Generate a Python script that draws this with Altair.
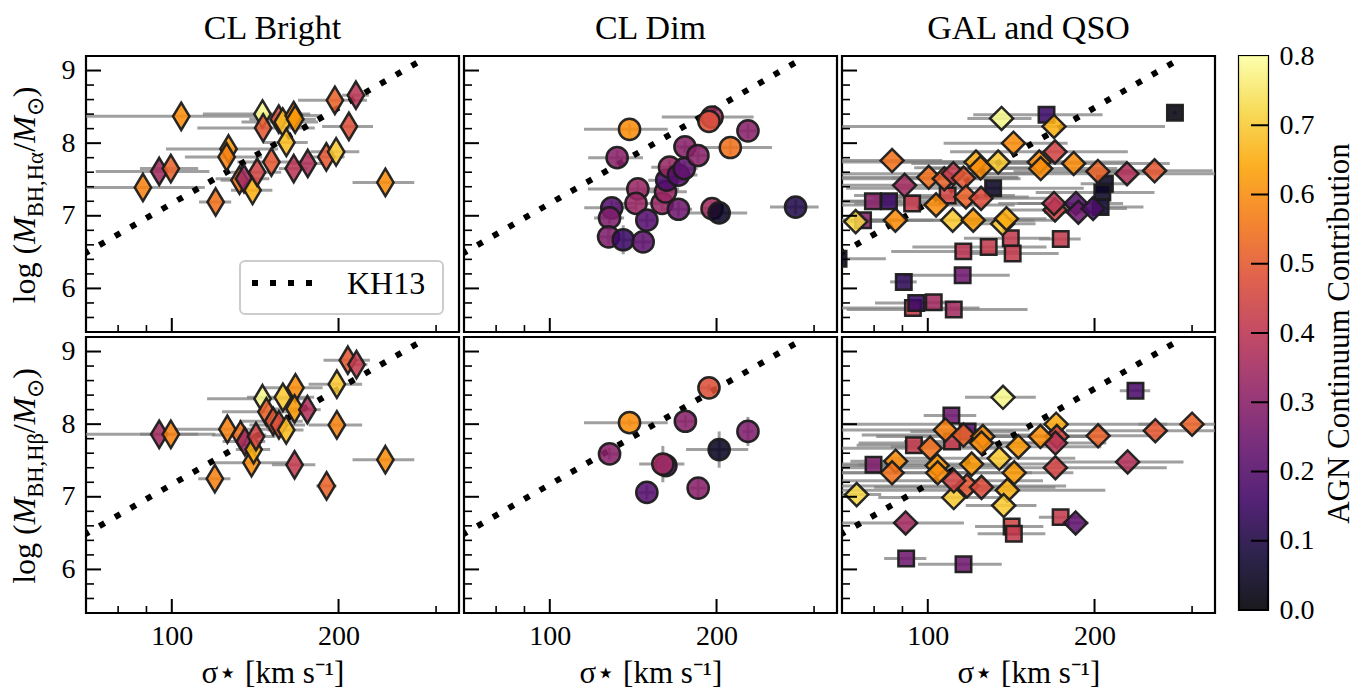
import altair as alt
import pandas as pd

FONT = "Liberation Serif"
PW, PH = 373, 276
CBW = 29
XDOM = [70, 330]
YDOM = [5.4, 9.2]

# ---------------- data ----------------
kh13_sigma = [65.0, 282.0]
kh13_logm = [6.35, 9.14]

x_major = [100, 200]
x_minor = [80, 90, 300]
y_major = [6, 7, 8, 9]
y_minor = [5.6, 5.8, 6.2, 6.4, 6.6, 6.8, 7.2, 7.4, 7.6, 7.8, 8.2, 8.4, 8.6, 8.8]
cbar_labels = [0.0, 0.1, 0.2, 0.3, 0.4, 0.5, 0.6, 0.7, 0.8]
cbar_inner_ticks = [0.1, 0.2, 0.3, 0.4, 0.5, 0.6, 0.7]
cbar_range = [0.0, 0.8]
col_titles = ["CL Bright", "CL Dim", "GAL and QSO"]

# CL Bright, H-alpha
cbA_sigma = [88.7, 94.9, 99.6, 104.0, 120.0, 126.6, 125.6, 132.5, 135.0, 139.9, 142.6, 145.8, 146.2, 151.3,
             156.0, 158.6, 161.0, 166.0, 167.0, 166.0, 176.0, 190.1, 198.0, 197.0, 208.8, 215.0, 243.0]
cbA_err = [26, 22, 12, 39, 8, 29, 20, 10, 15, 12, 15, 32, 35, 20, 18, 25, 15, 20, 15, 10, 12, 15, 20, 28, 22, 12, 31]
cbA_logm = [7.39, 7.61, 7.65, 8.37, 7.19, 7.92, 7.81, 7.49, 7.51, 7.35, 7.60, 8.40, 8.21, 7.74, 8.33, 8.29, 8.01,
            8.38, 8.33, 7.65, 7.72, 7.81, 7.88, 8.59, 8.23, 8.66, 7.46]
cbA_agn = [0.58, 0.35, 0.52, 0.60, 0.55, 0.62, 0.58, 0.55, 0.35, 0.66, 0.45, 0.78, 0.50, 0.50, 0.48, 0.68, 0.68,
           0.60, 0.62, 0.40, 0.38, 0.50, 0.70, 0.52, 0.48, 0.40, 0.60]

# CL Bright, H-beta
cbB_sigma = [94.9, 99.6, 119.6, 126.0, 133.1, 135.5, 139.3, 140.5, 141.9, 145.8, 148.2, 152.4, 158.7, 156.1,
             160.9, 167.2, 166.6, 166.6, 175.7, 190.3, 198.6, 198.6, 207.9, 215.5, 243.0]
cbB_err = [25, 12, 8, 25, 15, 12, 22, 10, 12, 30, 25, 20, 22, 18, 12, 20, 15, 15, 10, 8, 22, 22, 20, 10, 31]
cbB_logm = [7.86, 7.86, 7.25, 7.93, 7.85, 7.76, 7.47, 7.65, 7.83, 8.35, 8.17, 8.04, 8.37, 7.99, 7.92, 8.50,
            8.21, 7.44, 8.20, 7.15, 8.55, 7.99, 8.88, 8.82, 7.51]
cbB_agn = [0.35, 0.58, 0.58, 0.58, 0.55, 0.35, 0.60, 0.66, 0.45, 0.78, 0.52, 0.50, 0.70, 0.48, 0.68, 0.60,
           0.62, 0.42, 0.38, 0.52, 0.70, 0.58, 0.50, 0.42, 0.60]

# CL Dim, H-alpha
cdA_sigma = [139.3, 132.3, 144.2, 143.1, 129.4, 128.2, 127.7, 135.7, 147.4, 149.7, 159.5, 161.8, 162.6, 164.5,
             170.7, 174.9, 170.7, 175.4, 185.1, 196.3, 193.8, 196.3, 202.2, 211.8, 227.9, 277.8]
cdA_err = [24, 15, 27, 12, 14, 8, 6, 5, 5, 5, 8, 15, 12, 12, 14, 10, 10, 8, 8, 37, 8, 8, 25, 40, 8, 28]
cdA_logm = [8.19, 7.80, 7.37, 7.17, 7.11, 6.97, 6.71, 6.67, 6.64, 6.94, 7.17, 7.33, 7.49, 7.67, 7.56, 7.65,
            7.09, 7.95, 7.83, 8.36, 8.30, 7.10, 7.04, 7.94, 8.17, 7.12]
cdA_merr = [0.08, 0.10, 0.10, 0.10, 0.10, 0.08, 0.10, 0.20, 0.10, 0.10, 0.10, 0.10, 0.10, 0.10, 0.10, 0.10,
            0.10, 0.08, 0.10, 0.10, 0.08, 0.10, 0.10, 0.10, 0.10, 0.10]
cdA_agn = [0.60, 0.30, 0.33, 0.33, 0.20, 0.28, 0.28, 0.15, 0.22, 0.20, 0.33, 0.33, 0.18, 0.33, 0.20, 0.22,
           0.25, 0.30, 0.30, 0.35, 0.48, 0.35, 0.05, 0.55, 0.30, 0.10]

# CL Dim, H-beta
cdB_sigma = [139.3, 128.2, 175.7, 193.8, 227.9, 202.2, 162.0, 160.0, 149.7, 185.3]
cdB_err = [24, 5, 8, 8, 5, 26, 8, 15, 5, 6]
cdB_logm = [8.02, 7.59, 8.04, 8.50, 7.90, 7.65, 7.43, 7.45, 7.06, 7.12]
cdB_merr = [0.05, 0.08, 0.08, 0.05, 0.20, 0.25, 0.10, 0.25, 0.10, 0.15]
cdB_agn = [0.60, 0.30, 0.30, 0.48, 0.28, 0.05, 0.20, 0.35, 0.20, 0.30]

# GAL and QSO, H-alpha (diamonds)
gdA_sigma = [135.9, 169.0, 142.8, 86.2, 90.8, 74.1, 87.4, 100.4, 107.1, 111.2, 116.0, 122.2, 124.5, 134.0,
             103.5, 110.9, 120.8, 117.2, 124.8, 136.5, 138.7, 158.9, 159.9, 169.7, 183.4, 202.8, 228.9, 256.7,
             169.7, 169.0, 185.2, 187.0, 198.8]
gdA_err = [18, 99, 36, 20, 25, 10, 15, 45, 40, 50, 30, 55, 30, 35, 40, 45, 50, 35, 45, 20, 25, 70, 60, 60, 90,
           60, 110, 70, 30, 35, 40, 25, 30]
gdA_logm = [8.34, 8.23, 8.00, 7.76, 7.42, 6.92, 6.94, 7.53, 7.51, 7.58, 7.52, 7.74, 7.66, 7.74, 7.15, 6.94,
            6.94, 7.26, 7.24, 6.89, 6.96, 7.74, 7.65, 7.88, 7.72, 7.61, 7.58, 7.62, 7.08, 7.17, 7.17, 7.05, 7.10]
gdA_agn = [0.78, 0.66, 0.60, 0.55, 0.35, 0.72, 0.60, 0.55, 0.52, 0.42, 0.50, 0.65, 0.60, 0.70, 0.60, 0.70,
           0.62, 0.52, 0.47, 0.70, 0.65, 0.60, 0.60, 0.45, 0.60, 0.52, 0.38, 0.50, 0.45, 0.40, 0.20, 0.25, 0.18]

# GAL and QSO, H-alpha (squares)
gsA_sigma = [163.8, 279.4, 79.6, 85.1, 93.7, 131.2, 108.6, 208.8, 206.6, 205.1, 141.2, 142.3, 128.8, 115.9,
             173.8, 115.6, 90.5, 94.0, 95.3, 102.5, 111.4, 76.4, 69.0]
gsA_err = [43, 2, 10, 15, 20, 60, 35, 20, 50, 40, 25, 30, 35, 30, 15, 25, 5, 30, 15, 10, 40, 8, 15]
gsA_logm = [8.39, 8.42, 7.20, 7.20, 7.17, 7.38, 7.28, 7.44, 7.32, 7.12, 6.69, 6.48, 6.57, 6.51, 6.68, 6.18,
            6.09, 5.73, 5.80, 5.81, 5.71, 6.94, 6.41]
gsA_agn = [0.15, 0.02, 0.30, 0.15, 0.42, 0.05, 0.45, 0.05, 0.05, 0.08, 0.42, 0.42, 0.42, 0.40, 0.42, 0.25,
           0.12, 0.42, 0.15, 0.35, 0.35, 0.30, 0.05]

# GAL and QSO, H-beta (diamonds)
gdB_sigma = [136.7, 300.0, 257.5, 203.0, 229.5, 170.5, 171.0, 170.0, 159.7, 145.7, 170.0, 184.9, 91.2, 74.4,
             87.5, 86.2, 101.0, 107.6, 104.0, 104.2, 116.0, 125.7, 125.0, 120.0, 134.6, 111.4, 117.7, 125.0,
             143.2, 139.2, 137.1, 111.4]
gdB_err = [20, 60, 80, 60, 60, 100, 40, 40, 50, 60, 100, 10, 25, 8, 15, 30, 35, 45, 40, 50, 40, 45, 50, 55, 50,
           30, 60, 45, 40, 70, 20, 50]
gdB_logm = [8.37, 8.00, 7.91, 7.84, 7.48, 8.00, 7.83, 7.74, 7.83, 7.69, 7.40, 6.64, 6.64, 7.03, 7.49, 7.33,
            7.67, 7.92, 7.43, 7.33, 7.85, 7.83, 7.74, 7.45, 7.53, 6.99, 7.15, 7.13, 7.33, 7.09, 6.88, 7.22]
gdB_agn = [0.78, 0.52, 0.50, 0.52, 0.38, 0.65, 0.45, 0.40, 0.60, 0.62, 0.45, 0.22, 0.35, 0.72, 0.60, 0.55,
           0.55, 0.58, 0.62, 0.60, 0.52, 0.60, 0.60, 0.62, 0.70, 0.70, 0.50, 0.47, 0.62, 0.66, 0.70, 0.45]

# GAL and QSO, H-beta (squares)
gsB_sigma = [237.1, 110.3, 110.6, 94.4, 79.8, 118.0, 173.7, 141.7, 143.0, 91.4, 116.0]
gsB_err = [15, 12, 20, 20, 5, 25, 15, 20, 20, 8, 20]
gsB_logm = [8.46, 8.12, 7.76, 7.71, 7.44, 7.90, 6.72, 6.59, 6.49, 6.15, 6.07]
gsB_agn = [0.18, 0.25, 0.42, 0.42, 0.28, 0.20, 0.42, 0.45, 0.42, 0.25, 0.25]

inferno_stops = ["#000004", "#160b39", "#420a68", "#6a176e", "#932667", "#bc3754",
                 "#dd513a", "#f37819", "#fca50a", "#f6d746", "#fcffa4"]


# ---------------- helpers ----------------
def frame(sigma, err, logm, agn, merr=None):
    df = pd.DataFrame({"sigma": sigma, "err": err, "logm": logm, "agn": agn})
    df["xlo"] = (df["sigma"] - df["err"]).clip(lower=1.0)
    df["xhi"] = df["sigma"] + df["err"]
    if merr is not None:
        m = pd.Series(merr)
        df["ylo"] = df["logm"] - m
        df["yhi"] = df["logm"] + m
    return df


THIN_DIAMOND = "M0,-1L0.6,0L0,1L-0.6,0Z"
xs = alt.Scale(type="log", domain=XDOM, nice=False)
ys = alt.Scale(domain=YDOM, nice=False, zero=False)
cscale = alt.Scale(scheme="inferno", domain=cbar_range)

XAXIS_BOTTOM = alt.Axis(values=x_major, format="d", ticks=False, domain=False, grid=False,
                        labelFont=FONT, labelFontSize=28, labelPadding=9, labelColor="black",
                        labelFlush=False,
                        title="σ⋆ [km s⁻¹]", titleFont=FONT, titleFontSize=31,
                        titleFontWeight="normal", titleColor="black", titlePadding=8)
YAXIS_LEFT = alt.Axis(values=y_major, ticks=False, domain=False, grid=False,
                      labelFont=FONT, labelFontSize=28, labelPadding=11, labelColor="black",
                      labelFlush=False, title=None)

EM = {"l": .278, "o": .5, "g": .5, " ": .25, "(": .333, ")": .333, "M": .833, "B": .667,
      "H": .722, ",": .25, "α": .55, "β": .5, "/": .278, "⊙": .84}


def ytitle_layers(greek):
    main, sub = 32, 22.5
    pieces = [("log (", main, "normal", False), ("M", main, "italic", False),
              ("BH,H" + greek, sub, "normal", True), ("/", main, "normal", False),
              ("M", main, "italic", False), ("⊙", sub, "normal", True), (")", main, "normal", False)]
    widths = [sum(EM.get(c, .5) for c in t) * fs for t, fs, _, _ in pieces]
    total = sum(widths)
    ystart = 139 + total / 2
    layers = []
    cum = 0
    for (t, fs, style, is_sub), w in zip(pieces, widths):
        layers.append(
            alt.Chart(alt.Data(values=[{"k": 1}])).mark_text(
                text=t, font=FONT, fontSize=fs, fontStyle=style, angle=270,
                align="left", baseline="alphabetic", color="black"
            ).encode(x=alt.value(-43 if is_sub else -51), y=alt.value(ystart - cum))
        )
        cum += w
    return layers


def panel(groups, row, col, greek, title=None):
    xaxis = XAXIS_BOTTOM if row == 1 else None
    yaxis = YAXIS_LEFT if col == 0 else None

    def X(f):
        return alt.X(f, type="quantitative", scale=xs, axis=xaxis)

    def Y(f):
        return alt.Y(f, type="quantitative", scale=ys, axis=yaxis)

    layers = []
    for df, shape, size in groups:
        layers.append(alt.Chart(df).mark_rule(color="#808080", opacity=0.75, strokeWidth=3, clip=True)
                      .encode(x=X("xlo"), x2="xhi", y=Y("logm")))
        if "ylo" in df.columns:
            layers.append(alt.Chart(df).mark_rule(color="#808080", opacity=0.75, strokeWidth=3, clip=True)
                          .encode(x=X("sigma"), y=Y("ylo"), y2="yhi"))
    kh = pd.DataFrame({"sigma": kh13_sigma, "logm": kh13_logm})
    layers.append(alt.Chart(kh).mark_line(color="black", strokeWidth=6, strokeDash=[6, 12],
                                          strokeCap="butt", clip=True)
                  .encode(x=X("sigma"), y=Y("logm")))
    for df, shape, size in groups:
        layers.append(alt.Chart(df).mark_point(shape=shape, size=size, filled=True, opacity=1,
                                               fillOpacity=0.88, stroke="#1c1c1c", strokeWidth=2.5,
                                               strokeOpacity=0.95, clip=True)
                      .encode(x=X("sigma"), y=Y("logm"),
                              fill=alt.Fill("agn:Q", scale=cscale, legend=None)))
    # inward ticks
    layers.append(alt.Chart(pd.DataFrame({"v": x_major})).mark_rule(color="black", strokeWidth=2)
                  .encode(x=X("v"), y=alt.value(PH), y2=alt.value(PH - 14)))
    layers.append(alt.Chart(pd.DataFrame({"v": x_minor})).mark_rule(color="black", strokeWidth=1.6)
                  .encode(x=X("v"), y=alt.value(PH), y2=alt.value(PH - 7)))
    layers.append(alt.Chart(pd.DataFrame({"v": y_major})).mark_rule(color="black", strokeWidth=2)
                  .encode(y=Y("v"), x=alt.value(0), x2=alt.value(15)))
    layers.append(alt.Chart(pd.DataFrame({"v": y_minor})).mark_rule(color="black", strokeWidth=1.6)
                  .encode(y=Y("v"), x=alt.value(0), x2=alt.value(8)))
    if col == 0:
        layers += ytitle_layers(greek)
    if row == 0 and col == 0:
        one = alt.Data(values=[{"k": 1}])
        layers.append(alt.Chart(one).mark_rect(fill="white", stroke="#cccccc", strokeWidth=2,
                                               cornerRadius=5)
                      .encode(x=alt.value(154), x2=alt.value(357), y=alt.value(205), y2=alt.value(258)))
        layers.append(alt.Chart(one).mark_rule(color="black", strokeWidth=6, strokeDash=[6, 12])
                      .encode(x=alt.value(166), x2=alt.value(227), y=alt.value(227)))
        layers.append(alt.Chart(one).mark_text(text="KH13", font=FONT, fontSize=32, align="left",
                                               baseline="alphabetic", color="black")
                      .encode(x=alt.value(261), y=alt.value(238)))
    ch = alt.layer(*layers).properties(width=PW, height=PH)
    if title is not None:
        ch = ch.properties(title=alt.Title(title))
    return ch


cbA = frame(cbA_sigma, cbA_err, cbA_logm, cbA_agn)
cbB = frame(cbB_sigma, cbB_err, cbB_logm, cbB_agn)
cdA = frame(cdA_sigma, cdA_err, cdA_logm, cdA_agn, cdA_merr)
cdB = frame(cdB_sigma, cdB_err, cdB_logm, cdB_agn, cdB_merr)
gdA = frame(gdA_sigma, gdA_err, gdA_logm, gdA_agn)
gsA = frame(gsA_sigma, gsA_err, gsA_logm, gsA_agn)
gdB = frame(gdB_sigma, gdB_err, gdB_logm, gdB_agn)
gsB = frame(gsB_sigma, gsB_err, gsB_logm, gsB_agn)

row1 = alt.hconcat(
    panel([(cbA, THIN_DIAMOND, 750)], 0, 0, "α", col_titles[0]),
    panel([(cdA, "circle", 450)], 0, 1, "α", col_titles[1]),
    panel([(gsA, "square", 240), (gdA, "diamond", 530)], 0, 2, "α", col_titles[2]),
    spacing=0,
)
row2 = alt.hconcat(
    panel([(cbB, THIN_DIAMOND, 750)], 1, 0, "β"),
    panel([(cdB, "circle", 450)], 1, 1, "β"),
    panel([(gsB, "square", 240), (gdB, "diamond", 530)], 1, 2, "β"),
    spacing=0,
)
grid = alt.vconcat(row1, row2, spacing=0)

# colorbar
cs = alt.Scale(domain=cbar_range, nice=False, zero=False)
caxis = alt.Axis(orient="right", values=cbar_labels, format=".1f", ticks=False, domain=False, grid=False,
                 labelFont=FONT, labelFontSize=28, labelPadding=11, labelColor="black", labelFlush=False,
                 title="AGN Continuum Contribution", titleFont=FONT, titleFontSize=31,
                 titleFontWeight="normal", titleColor="black", titleAngle=270, titleBaseline="top",
                 titlePadding=10)
grad = alt.LinearGradient(
    gradient="linear",
    stops=[alt.GradientStop(offset=i / 10, color=c) for i, c in enumerate(inferno_stops)],
    x1=0, x2=0, y1=1, y2=0,
)
cb_rect = alt.Chart(pd.DataFrame({"lo": [cbar_range[0]], "hi": [cbar_range[1]]})).mark_rect(
    fill=grad, opacity=0.9
).encode(x=alt.value(0), x2=alt.value(CBW), y=alt.Y("lo:Q", scale=cs, axis=caxis), y2="hi:Q")
cb_ticks = alt.Chart(pd.DataFrame({"v": cbar_inner_ticks})).mark_rule(color="black", strokeWidth=2).encode(
    y=alt.Y("v:Q", scale=cs, axis=caxis), x=alt.value(CBW - 17), x2=alt.value(CBW)
)
cbar = alt.layer(cb_rect, cb_ticks).properties(width=CBW, height=2 * PH + 2, title=alt.Title("\u00a0"))

chart = alt.hconcat(grid, cbar, spacing=20).properties(
    padding={"left": 7, "top": -4, "right": 5, "bottom": 5}
).configure_view(
    stroke="black", strokeWidth=2.2
).configure_title(
    font=FONT, fontSize=34, fontWeight="normal", color="black", offset=10, anchor="middle"
).configure_axis(
    labelFont=FONT, titleFont=FONT, labelColor="black", titleColor="black", grid=False
)

chart.save("out.html", embed_options={"renderer": "svg", "actions": False})
